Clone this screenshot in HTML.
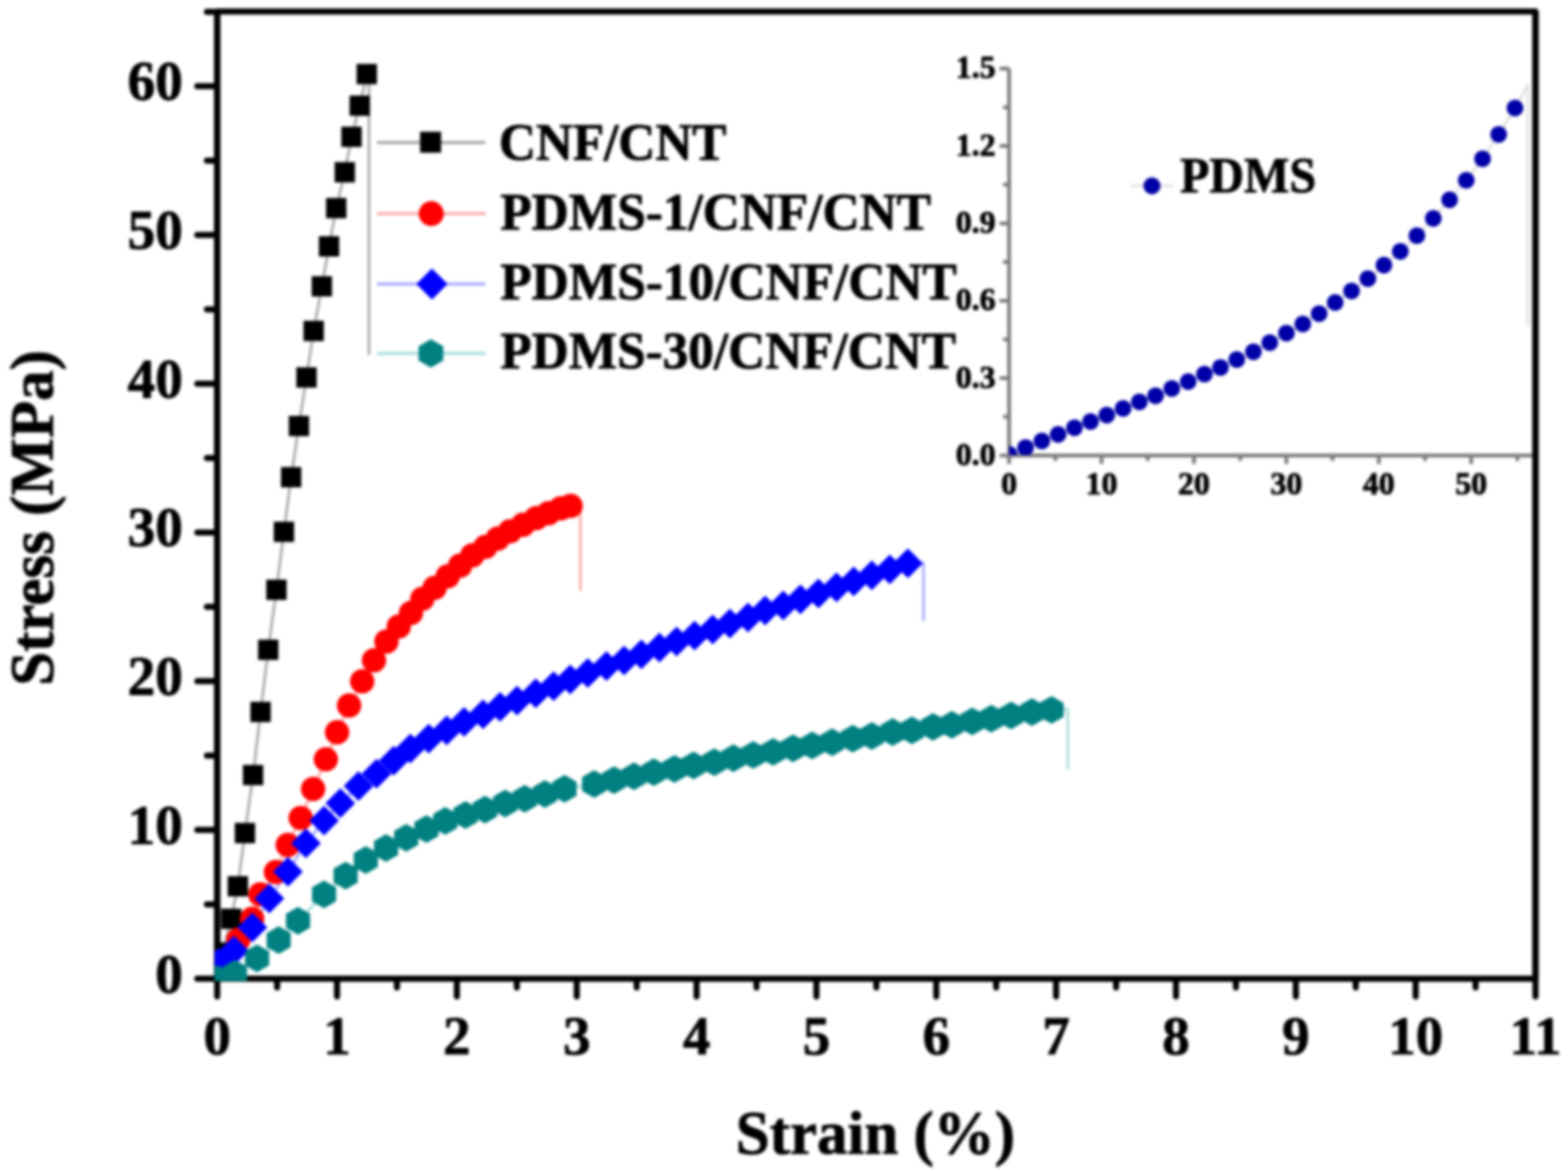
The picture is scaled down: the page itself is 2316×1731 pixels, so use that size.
<!DOCTYPE html><html><head><meta charset="utf-8"><title>Stress-strain curves</title><style>
html,body{margin:0;padding:0;background:#fff;width:2316px;height:1731px;overflow:hidden}
svg{display:block;filter:blur(2.1px)}
text{font-family:'Liberation Serif', 'Times New Roman', serif;font-weight:bold;fill:#000;stroke:#000;stroke-width:1.2px;stroke-linejoin:round}
</style></head><body>
<svg width="2316" height="1731" viewBox="0 0 2316 1731">
<defs><clipPath id="pc"><rect x="317" y="13" width="1955" height="1436"/></clipPath><clipPath id="ic"><rect x="1490.5" y="90" width="780" height="582"/></clipPath></defs>
<rect width="2316" height="1731" fill="#fff"/>
<g>
<g stroke="#7a7a7a" stroke-width="5.5" fill="none" stroke-linecap="butt">
<path d="M1490.5 101.3V672.8H2266"/>
<path d="M1476.5 672.8H1490.5M1481.5 615.6H1490.5M1476.5 558.5H1490.5M1481.5 501.3H1490.5M1476.5 444.2H1490.5M1481.5 387H1490.5M1476.5 329.9H1490.5M1481.5 272.7H1490.5M1476.5 215.6H1490.5M1481.5 158.5H1490.5M1476.5 101.3H1490.5M1490.5 672.8V685.3M1558.8 672.8V680.8M1627 672.8V685.3M1695.2 672.8V680.8M1763.5 672.8V685.3M1831.8 672.8V680.8M1900 672.8V685.3M1968.2 672.8V680.8M2036.5 672.8V685.3M2104.8 672.8V680.8M2173 672.8V685.3M2241.2 672.8V680.8"/>
</g>
<g font-size="47" text-anchor="end">
<text x="1470.5" y="686.8">0.0</text>
<text x="1470.5" y="572.5">0.3</text>
<text x="1470.5" y="458.2">0.6</text>
<text x="1470.5" y="343.9">0.9</text>
<text x="1470.5" y="229.6">1.2</text>
<text x="1470.5" y="115.3">1.5</text>
</g><g font-size="47" text-anchor="middle">
<text x="1490.5" y="729.5">0</text>
<text x="1627" y="729.5">10</text>
<text x="1763.5" y="729.5">20</text>
<text x="1900" y="729.5">30</text>
<text x="2036.5" y="729.5">40</text>
<text x="2173" y="729.5">50</text>
</g>
<polyline fill="none" stroke="#e2e2e2" stroke-width="4" points="1490.5,671 1514.8,661 1538.9,651.3 1562.9,641.6 1587,631.8 1610.8,622.6 1634.7,613.1 1658.8,603.3 1682.9,593.5 1706.8,584.5 1730.8,573.8 1755,563.6 1779,552.5 1802.7,542.8 1826.8,531 1851.4,519.5 1875.5,506 1900.1,492 1924.3,478.5 1948.4,463.2 1972.1,446.7 1996.3,429.8 2020.4,411.5 2044.1,391.6 2068.3,371.3 2092.8,348 2117,322.6 2141.1,295.1 2165.7,266.3 2189.8,234.5 2213.6,198.5 2237.7,159.5 2257,124"/>
<path d="M2257 124V482" stroke="#e4e4e4" stroke-width="4.5"/>
<g fill="#0000a8" clip-path="url(#ic)"><circle cx="1490.5" cy="671" r="12.3"/><circle cx="1514.8" cy="661" r="12.3"/><circle cx="1538.9" cy="651.3" r="12.3"/><circle cx="1562.9" cy="641.6" r="12.3"/><circle cx="1587" cy="631.8" r="12.3"/><circle cx="1610.8" cy="622.6" r="12.3"/><circle cx="1634.7" cy="613.1" r="12.3"/><circle cx="1658.8" cy="603.3" r="12.3"/><circle cx="1682.9" cy="593.5" r="12.3"/><circle cx="1706.8" cy="584.5" r="12.3"/><circle cx="1730.8" cy="573.8" r="12.3"/><circle cx="1755" cy="563.6" r="12.3"/><circle cx="1779" cy="552.5" r="12.3"/><circle cx="1802.7" cy="542.8" r="12.3"/><circle cx="1826.8" cy="531" r="12.3"/><circle cx="1851.4" cy="519.5" r="12.3"/><circle cx="1875.5" cy="506" r="12.3"/><circle cx="1900.1" cy="492" r="12.3"/><circle cx="1924.3" cy="478.5" r="12.3"/><circle cx="1948.4" cy="463.2" r="12.3"/><circle cx="1972.1" cy="446.7" r="12.3"/><circle cx="1996.3" cy="429.8" r="12.3"/><circle cx="2020.4" cy="411.5" r="12.3"/><circle cx="2044.1" cy="391.6" r="12.3"/><circle cx="2068.3" cy="371.3" r="12.3"/><circle cx="2092.8" cy="348" r="12.3"/><circle cx="2117" cy="322.6" r="12.3"/><circle cx="2141.1" cy="295.1" r="12.3"/><circle cx="2165.7" cy="266.3" r="12.3"/><circle cx="2189.8" cy="234.5" r="12.3"/><circle cx="2213.6" cy="198.5" r="12.3"/><circle cx="2237.7" cy="159.5" r="12.3"/></g>
<path d="M1670 274.5H1733" stroke="#e2e2e2" stroke-width="4"/>
<circle cx="1701.5" cy="274.5" r="12.5" fill="#0000a8"/>
<text x="1743" y="284" font-size="73" textLength="201" lengthAdjust="spacingAndGlyphs">PDMS</text>
<g stroke="#000" fill="none" stroke-linecap="round">
<rect x="320.8" y="17" width="1947.2" height="1428.5" stroke-width="9" stroke-linejoin="round"/>
<path d="M320.8 17V1445.5M2268 17V1445.5" stroke-width="9.3" stroke-linecap="butt"/>
<path d="M291.3 1445.5H320.8M305.5 1335.7H320.8M291.3 1225.8H320.8M305.5 1116H320.8M291.3 1006.1H320.8M305.5 896.2H320.8M291.3 786.4H320.8M305.5 676.6H320.8M291.3 566.7H320.8M305.5 456.9H320.8M291.3 347H320.8M305.5 237.2H320.8M291.3 127.3H320.8M305.5 17.5H320.8M320.8 1445.5V1471.8M409.3 1445.5V1458.5M497.8 1445.5V1471.8M586.3 1445.5V1458.5M674.8 1445.5V1471.8M763.4 1445.5V1458.5M851.9 1445.5V1471.8M940.4 1445.5V1458.5M1028.9 1445.5V1471.8M1117.4 1445.5V1458.5M1205.9 1445.5V1471.8M1294.4 1445.5V1458.5M1382.9 1445.5V1471.8M1471.4 1445.5V1458.5M1559.9 1445.5V1471.8M1648.5 1445.5V1458.5M1737 1445.5V1471.8M1825.5 1445.5V1458.5M1914 1445.5V1471.8M2002.5 1445.5V1458.5M2091 1445.5V1471.8M2179.5 1445.5V1458.5M2268 1445.5V1471.8" stroke-width="9"/>
</g>
<g clip-path="url(#pc)">
<polyline fill="none" stroke="#a6a6a6" stroke-width="3.8" points="320,1444 329,1407 341.5,1357 351.3,1309 361.8,1230.4 373.8,1144.7 384.9,1051.5 396.2,959.7 408.3,871.1 419.4,785.5 430,704.8 441.5,629.2 452.7,557.5 463.3,488.8 475.4,422.9 486,363.9 496.6,307.4 509.3,254.4 519.2,202.1 531.3,156.1 541.7,109.4 545,109 545,524"/>
<polyline fill="none" stroke="#ffa8a8" stroke-width="3.8" points="320,1444 327,1421 352,1388 372.5,1357 384.5,1321 407.5,1288 425,1248 444.2,1208.2 462.5,1165.3 481.3,1121.4 497.9,1081.5 515.6,1042 535,1006.3 552.4,975.3 570.8,947.5 589,925.3 607,905.3 623.8,884.4 642,868.2 661.3,851.2 679.5,835.5 697.6,820.3 717,807.7 735.1,795.6 753.3,784.7 772.6,775 792,765.3 810.1,758.1 828.3,750.8 842.8,747.2 857.3,746 857.3,873"/>
<polyline fill="none" stroke="#a8a8ff" stroke-width="3.8" points="320,1444 322.5,1422 345.7,1404 372.8,1369.8 397.8,1327 425.3,1287.6 451.9,1245.6 478.7,1212 502.7,1186.2 529.5,1161 556.2,1142.7 581.5,1123.5 606.1,1105.6 633.2,1090.9 659.9,1078.8 685.5,1066.3 713.5,1054.9 738.6,1044 763.7,1034.8 791.3,1024 817.7,1013.6 842.3,1003.6 868.2,993.9 895.8,983.8 921.9,975.5 947.3,966.6 974,956.5 999.4,947.5 1026,938.7 1052.7,929.8 1078.1,920.9 1104.8,912 1130.2,901.8 1156.9,894.2 1182.3,885.3 1208.9,876.4 1235.6,867.5 1261,858.7 1287.7,849.8 1314.3,840.9 1341,832 1364,832 1364,917"/>
<polyline fill="none" stroke="#a8dcdc" stroke-width="3.8" points="320,1444 321,1446 347,1438 379.7,1415.4 411.6,1388.6 440.2,1360 478.6,1321.1 510.5,1293.2 540.3,1270.3 570.2,1252.4 600,1237.5 629.9,1224.5 657.7,1212.6 687.6,1203.7 716.4,1195.7 746.2,1186.7 775.1,1179.8 804.9,1172.8 833.8,1165 877.6,1158.1 907,1152.3 936.4,1146.4 965.7,1140.5 996.3,1135.8 1024.5,1130.4 1055.1,1125.7 1083.3,1119.8 1112.7,1115.1 1142,1110.4 1171.4,1105.2 1199.6,1101 1229,1096.3 1259.6,1091.1 1287.8,1086.9 1318.4,1081.2 1347,1078.8 1378.1,1073.5 1405.9,1070.6 1436,1065.4 1464.2,1061.5 1493.4,1056.7 1524.2,1051.8 1553.2,1048.5 1577,1047 1577,1136"/>
<g fill="#000"><rect x="314" y="1392" width="30" height="30"/><rect x="326.5" y="1342" width="30" height="30"/><rect x="336.3" y="1294" width="30" height="30"/><rect x="346.8" y="1215.4" width="30" height="30"/><rect x="358.8" y="1129.7" width="30" height="30"/><rect x="369.9" y="1036.5" width="30" height="30"/><rect x="381.2" y="944.7" width="30" height="30"/><rect x="393.3" y="856.1" width="30" height="30"/><rect x="404.4" y="770.5" width="30" height="30"/><rect x="415" y="689.8" width="30" height="30"/><rect x="426.5" y="614.2" width="30" height="30"/><rect x="437.7" y="542.5" width="30" height="30"/><rect x="448.3" y="473.8" width="30" height="30"/><rect x="460.4" y="407.9" width="30" height="30"/><rect x="471" y="348.9" width="30" height="30"/><rect x="481.6" y="292.4" width="30" height="30"/><rect x="494.3" y="239.4" width="30" height="30"/><rect x="504.2" y="187.1" width="30" height="30"/><rect x="516.3" y="141.1" width="30" height="30"/><rect x="526.7" y="94.4" width="30" height="30"/></g>
<g fill="#ff0000"><circle cx="327" cy="1421" r="18"/><circle cx="352" cy="1388" r="18"/><circle cx="372.5" cy="1357" r="18"/><circle cx="384.5" cy="1321" r="18"/><circle cx="407.5" cy="1288" r="18"/><circle cx="425" cy="1248" r="18"/><circle cx="444.2" cy="1208.2" r="18"/><circle cx="462.5" cy="1165.3" r="18"/><circle cx="481.3" cy="1121.4" r="18"/><circle cx="497.9" cy="1081.5" r="18"/><circle cx="515.6" cy="1042" r="18"/><circle cx="535" cy="1006.3" r="18"/><circle cx="552.4" cy="975.3" r="18"/><circle cx="570.8" cy="947.5" r="18"/><circle cx="589" cy="925.3" r="18"/><circle cx="607" cy="905.3" r="18"/><circle cx="623.8" cy="884.4" r="18"/><circle cx="642" cy="868.2" r="18"/><circle cx="661.3" cy="851.2" r="18"/><circle cx="679.5" cy="835.5" r="18"/><circle cx="697.6" cy="820.3" r="18"/><circle cx="717" cy="807.7" r="18"/><circle cx="735.1" cy="795.6" r="18"/><circle cx="753.3" cy="784.7" r="18"/><circle cx="772.6" cy="775" r="18"/><circle cx="792" cy="765.3" r="18"/><circle cx="810.1" cy="758.1" r="18"/><circle cx="828.3" cy="750.8" r="18"/><circle cx="842.8" cy="747.2" r="18"/></g>
<g fill="#0000ff"><path d="M322.5 1400L344.5 1422L322.5 1444L300.5 1422Z"/><path d="M345.7 1382L367.7 1404L345.7 1426L323.7 1404Z"/><path d="M372.8 1347.8L394.8 1369.8L372.8 1391.8L350.8 1369.8Z"/><path d="M397.8 1305L419.8 1327L397.8 1349L375.8 1327Z"/><path d="M425.3 1265.6L447.3 1287.6L425.3 1309.6L403.3 1287.6Z"/><path d="M451.9 1223.6L473.9 1245.6L451.9 1267.6L429.9 1245.6Z"/><path d="M478.7 1190L500.7 1212L478.7 1234L456.7 1212Z"/><path d="M502.7 1164.2L524.7 1186.2L502.7 1208.2L480.7 1186.2Z"/><path d="M529.5 1139L551.5 1161L529.5 1183L507.5 1161Z"/><path d="M556.2 1120.7L578.2 1142.7L556.2 1164.7L534.2 1142.7Z"/><path d="M581.5 1101.5L603.5 1123.5L581.5 1145.5L559.5 1123.5Z"/><path d="M606.1 1083.6L628.1 1105.6L606.1 1127.6L584.1 1105.6Z"/><path d="M633.2 1068.9L655.2 1090.9L633.2 1112.9L611.2 1090.9Z"/><path d="M659.9 1056.8L681.9 1078.8L659.9 1100.8L637.9 1078.8Z"/><path d="M685.5 1044.3L707.5 1066.3L685.5 1088.3L663.5 1066.3Z"/><path d="M713.5 1032.9L735.5 1054.9L713.5 1076.9L691.5 1054.9Z"/><path d="M738.6 1022L760.6 1044L738.6 1066L716.6 1044Z"/><path d="M763.7 1012.8L785.7 1034.8L763.7 1056.8L741.7 1034.8Z"/><path d="M791.3 1002L813.3 1024L791.3 1046L769.3 1024Z"/><path d="M817.7 991.6L839.7 1013.6L817.7 1035.6L795.7 1013.6Z"/><path d="M842.3 981.6L864.3 1003.6L842.3 1025.6L820.3 1003.6Z"/><path d="M868.2 971.9L890.2 993.9L868.2 1015.9L846.2 993.9Z"/><path d="M895.8 961.8L917.8 983.8L895.8 1005.8L873.8 983.8Z"/><path d="M921.9 953.5L943.9 975.5L921.9 997.5L899.9 975.5Z"/><path d="M947.3 944.6L969.3 966.6L947.3 988.6L925.3 966.6Z"/><path d="M974 934.5L996 956.5L974 978.5L952 956.5Z"/><path d="M999.4 925.5L1021.4 947.5L999.4 969.5L977.4 947.5Z"/><path d="M1026 916.7L1048 938.7L1026 960.7L1004 938.7Z"/><path d="M1052.7 907.8L1074.7 929.8L1052.7 951.8L1030.7 929.8Z"/><path d="M1078.1 898.9L1100.1 920.9L1078.1 942.9L1056.1 920.9Z"/><path d="M1104.8 890L1126.8 912L1104.8 934L1082.8 912Z"/><path d="M1130.2 879.8L1152.2 901.8L1130.2 923.8L1108.2 901.8Z"/><path d="M1156.9 872.2L1178.9 894.2L1156.9 916.2L1134.9 894.2Z"/><path d="M1182.3 863.3L1204.3 885.3L1182.3 907.3L1160.3 885.3Z"/><path d="M1208.9 854.4L1230.9 876.4L1208.9 898.4L1186.9 876.4Z"/><path d="M1235.6 845.5L1257.6 867.5L1235.6 889.5L1213.6 867.5Z"/><path d="M1261 836.7L1283 858.7L1261 880.7L1239 858.7Z"/><path d="M1287.7 827.8L1309.7 849.8L1287.7 871.8L1265.7 849.8Z"/><path d="M1314.3 818.9L1336.3 840.9L1314.3 862.9L1292.3 840.9Z"/><path d="M1341 810L1363 832L1341 854L1319 832Z"/></g>
<g fill="#008080"><polygon points="321,1425.5 338.8,1435.8 338.8,1456.2 321,1466.5 303.2,1456.2 303.2,1435.8"/><polygon points="347,1417.5 364.8,1427.8 364.8,1448.2 347,1458.5 329.2,1448.2 329.2,1427.8"/><polygon points="379.7,1394.9 397.5,1405.2 397.5,1425.7 379.7,1435.9 361.9,1425.7 361.9,1405.2"/><polygon points="411.6,1368.1 429.4,1378.3 429.4,1398.8 411.6,1409.1 393.8,1398.8 393.8,1378.3"/><polygon points="440.2,1339.5 458,1349.8 458,1370.2 440.2,1380.5 422.4,1370.2 422.4,1349.8"/><polygon points="478.6,1300.6 496.4,1310.8 496.4,1331.3 478.6,1341.6 460.8,1331.3 460.8,1310.8"/><polygon points="510.5,1272.7 528.3,1283 528.3,1303.5 510.5,1313.7 492.7,1303.5 492.7,1283"/><polygon points="540.3,1249.8 558.1,1260 558.1,1280.5 540.3,1290.8 522.5,1280.5 522.5,1260"/><polygon points="570.2,1231.9 588,1242.2 588,1262.7 570.2,1272.9 552.4,1262.7 552.4,1242.2"/><polygon points="600,1217 617.8,1227.2 617.8,1247.8 600,1258 582.2,1247.8 582.2,1227.2"/><polygon points="629.9,1204 647.7,1214.2 647.7,1234.8 629.9,1245 612.1,1234.8 612.1,1214.2"/><polygon points="657.7,1192.1 675.5,1202.3 675.5,1222.8 657.7,1233.1 639.9,1222.8 639.9,1202.3"/><polygon points="687.6,1183.2 705.4,1193.5 705.4,1214 687.6,1224.2 669.8,1214 669.8,1193.5"/><polygon points="716.4,1175.2 734.2,1185.5 734.2,1206 716.4,1216.2 698.6,1206 698.6,1185.5"/><polygon points="746.2,1166.2 764,1176.5 764,1197 746.2,1207.2 728.4,1197 728.4,1176.5"/><polygon points="775.1,1159.3 792.9,1169.5 792.9,1190 775.1,1200.3 757.3,1190 757.3,1169.5"/><polygon points="804.9,1152.3 822.7,1162.5 822.7,1183 804.9,1193.3 787.1,1183 787.1,1162.5"/><polygon points="833.8,1144.5 851.6,1154.8 851.6,1175.2 833.8,1185.5 816,1175.2 816,1154.8"/><polygon points="877.6,1137.6 895.4,1147.8 895.4,1168.3 877.6,1178.6 859.8,1168.3 859.8,1147.8"/><polygon points="907,1131.8 924.8,1142 924.8,1162.5 907,1172.8 889.2,1162.5 889.2,1142"/><polygon points="936.4,1125.9 954.2,1136.2 954.2,1156.7 936.4,1166.9 918.6,1156.7 918.6,1136.2"/><polygon points="965.7,1120 983.5,1130.2 983.5,1150.8 965.7,1161 947.9,1150.8 947.9,1130.2"/><polygon points="996.3,1115.3 1014.1,1125.5 1014.1,1146 996.3,1156.3 978.5,1146 978.5,1125.5"/><polygon points="1024.5,1109.9 1042.3,1120.2 1042.3,1140.7 1024.5,1150.9 1006.7,1140.7 1006.7,1120.2"/><polygon points="1055.1,1105.2 1072.9,1115.5 1072.9,1136 1055.1,1146.2 1037.3,1136 1037.3,1115.5"/><polygon points="1083.3,1099.3 1101.1,1109.5 1101.1,1130 1083.3,1140.3 1065.5,1130 1065.5,1109.5"/><polygon points="1112.7,1094.6 1130.5,1104.8 1130.5,1125.3 1112.7,1135.6 1094.9,1125.3 1094.9,1104.8"/><polygon points="1142,1089.9 1159.8,1100.2 1159.8,1120.7 1142,1130.9 1124.2,1120.7 1124.2,1100.2"/><polygon points="1171.4,1084.7 1189.2,1095 1189.2,1115.5 1171.4,1125.7 1153.6,1115.5 1153.6,1095"/><polygon points="1199.6,1080.5 1217.4,1090.8 1217.4,1111.2 1199.6,1121.5 1181.8,1111.2 1181.8,1090.8"/><polygon points="1229,1075.8 1246.8,1086 1246.8,1106.5 1229,1116.8 1211.2,1106.5 1211.2,1086"/><polygon points="1259.6,1070.6 1277.4,1080.8 1277.4,1101.3 1259.6,1111.6 1241.8,1101.3 1241.8,1080.8"/><polygon points="1287.8,1066.4 1305.6,1076.7 1305.6,1097.2 1287.8,1107.4 1270,1097.2 1270,1076.7"/><polygon points="1318.4,1060.7 1336.2,1071 1336.2,1091.5 1318.4,1101.7 1300.6,1091.5 1300.6,1071"/><polygon points="1347,1058.3 1364.8,1068.5 1364.8,1089 1347,1099.3 1329.2,1089 1329.2,1068.5"/><polygon points="1378.1,1053 1395.9,1063.2 1395.9,1083.8 1378.1,1094 1360.3,1083.8 1360.3,1063.2"/><polygon points="1405.9,1050.1 1423.7,1060.3 1423.7,1080.8 1405.9,1091.1 1388.1,1080.8 1388.1,1060.3"/><polygon points="1436,1044.9 1453.8,1055.2 1453.8,1075.7 1436,1085.9 1418.2,1075.7 1418.2,1055.2"/><polygon points="1464.2,1041 1482,1051.2 1482,1071.8 1464.2,1082 1446.4,1071.8 1446.4,1051.2"/><polygon points="1493.4,1036.2 1511.2,1046.5 1511.2,1067 1493.4,1077.2 1475.6,1067 1475.6,1046.5"/><polygon points="1524.2,1031.3 1542,1041.5 1542,1062 1524.2,1072.3 1506.4,1062 1506.4,1041.5"/><polygon points="1553.2,1028 1571,1038.2 1571,1058.8 1553.2,1069 1535.4,1058.8 1535.4,1038.2"/></g>
</g>
<g stroke-width="4.5">
<path d="M557 210.5H717" stroke="#a6a6a6"/>
<path d="M557 315.5H717" stroke="#ffa8a8"/>
<path d="M557 419.5H717" stroke="#a8a8ff"/>
<path d="M557 522H717" stroke="#a8dcdc"/>
</g>
<rect fill="#000" x="620.5" y="194.5" width="31" height="31"/>
<circle fill="#f00" cx="637" cy="315.5" r="18.5"/>
<path fill="#00f" d="M638 396.5L661 419.5L638 442.5L615 419.5Z"/>
<polygon fill="#008080" points="636.5,501 654.7,511.5 654.7,532.5 636.5,543 618.3,532.5 618.3,511.5"/>
<g font-size="78">
<text x="737" y="236" textLength="336" lengthAdjust="spacingAndGlyphs">CNF/CNT</text>
<text x="739" y="339" textLength="636" lengthAdjust="spacingAndGlyphs">PDMS-1/CNF/CNT</text>
<text x="739" y="442" textLength="674" lengthAdjust="spacingAndGlyphs">PDMS-10/CNF/CNT</text>
<text x="739" y="544" textLength="673" lengthAdjust="spacingAndGlyphs">PDMS-30/CNF/CNT</text>
</g>
<g font-size="81.5" text-anchor="end">
<text x="270" y="1465.5">0</text>
<text x="270" y="1245.8">10</text>
<text x="270" y="1026.1">20</text>
<text x="270" y="806.4">30</text>
<text x="270" y="586.7">40</text>
<text x="270" y="367">50</text>
<text x="270" y="147.3">60</text>
</g><g font-size="81" text-anchor="middle">
<text x="320.8" y="1557">0</text>
<text x="497.8" y="1557">1</text>
<text x="674.8" y="1557">2</text>
<text x="851.9" y="1557">3</text>
<text x="1028.9" y="1557">4</text>
<text x="1205.9" y="1557">5</text>
<text x="1382.9" y="1557">6</text>
<text x="1559.9" y="1557">7</text>
<text x="1737" y="1557">8</text>
<text x="1914" y="1557">9</text>
<text x="2091" y="1557">10</text>
<text x="2268" y="1557">11</text>
</g>
<text x="1293" y="1704" font-size="90" text-anchor="middle">Strain (%)</text>
<text transform="translate(78 765) rotate(-90)" font-size="90" text-anchor="middle">Stress (MPa)</text>
</g>
</svg></body></html>
